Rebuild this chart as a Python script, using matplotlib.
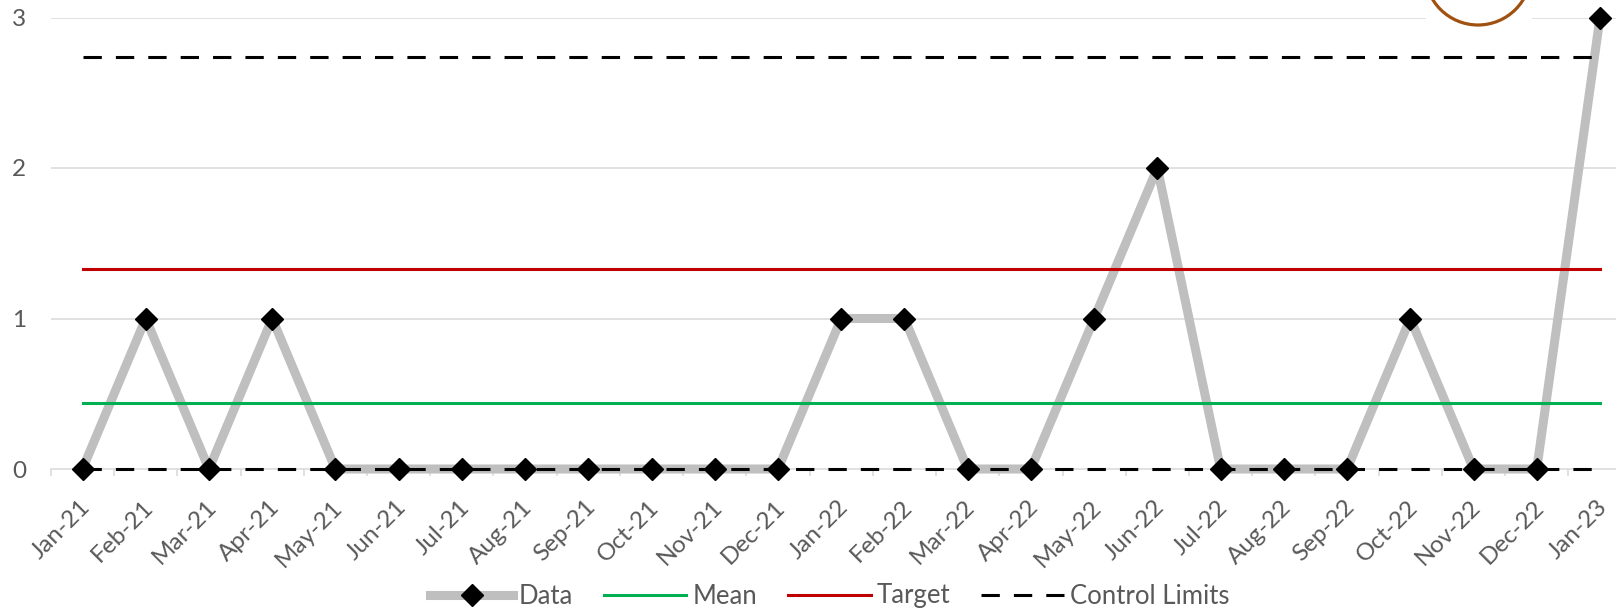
import numpy as np
import matplotlib
matplotlib.use("Agg")
import matplotlib.pyplot as plt
from matplotlib.patches import Ellipse, Rectangle
from matplotlib.transforms import ScaledTranslation

# monthly counts, Jan-21 .. Jan-23
months = ["Jan-21", "Feb-21", "Mar-21", "Apr-21", "May-21", "Jun-21", "Jul-21",
          "Aug-21", "Sep-21", "Oct-21", "Nov-21", "Dec-21", "Jan-22", "Feb-22",
          "Mar-22", "Apr-22", "May-22", "Jun-22", "Jul-22", "Aug-22", "Sep-22",
          "Oct-22", "Nov-22", "Dec-22", "Jan-23"]
counts = [0, 1, 0, 1, 0, 0, 0, 0, 0, 0, 0, 0, 1, 1, 0, 0, 1, 2, 0, 0, 0, 1, 0, 0, 3]
mean_val = 0.44
target_val = 1.33
ucl_val = 2.74
lcl_val = 0.0
yticks = [0, 1, 2, 3]

plt.rcParams['font.family'] = ['Lato', 'DejaVu Sans']
txt_col = '#595959'
fsize = 17.5

W, H = 1616, 612
fig = plt.figure(figsize=(W / 100, H / 100), dpi=100)
# plot area runs off the right edge of the image
ax = fig.add_axes([50.9 / W, 1 - 469 / H, (1631.6 - 50.9) / W, (469 - 17.5) / H])

x = np.arange(len(months))
n = len(months)

ax.set_xlim(-0.5, n - 0.5)
ax.set_ylim(0, 3)

for v in yticks[1:]:
    ax.axhline(v, color='#d9d9d9', lw=1.1, zorder=0)

# data line underneath, reference lines over it, markers on top
ax.plot(x, counts, color='#bfbfbf', lw=6.5, zorder=2, clip_on=False,
        solid_capstyle='round')
dash = (0, (6, 4.6))
ax.plot(x, [lcl_val] * n, color='black', lw=2.2, linestyle=dash, zorder=3,
        clip_on=False)
ax.plot(x, [ucl_val] * n, color='black', lw=2.2, linestyle=dash, zorder=3)
ax.plot(x, [mean_val] * n, color='#00b050', lw=2.2, zorder=3)
ax.plot(x, [target_val] * n, color='#c00000', lw=2.2, zorder=3)
ax.plot(x, counts, linestyle='none', marker='D', markersize=11,
        markerfacecolor='black', markeredgecolor='black', zorder=4,
        clip_on=False)

for s in ['top', 'right', 'left']:
    ax.spines[s].set_visible(False)
ax.spines['bottom'].set_color('#d9d9d9')
ax.spines['bottom'].set_linewidth(1.1)
ax.spines['bottom'].set_zorder(1)

ax.set_yticks(yticks)
ax.set_yticklabels([str(v) for v in yticks])
ax.tick_params(axis='y', length=0, pad=18, labelsize=fsize, labelcolor=txt_col)

ax.set_xticks(np.arange(n + 1) - 0.5, minor=False)
ax.set_xticklabels([])
ax.set_xticks(x, minor=True)
ax.set_xticklabels(months, minor=True, rotation=45, ha='right', va='center',
                   rotation_mode='anchor')
ax.tick_params(axis='x', which='major', length=5, color='#d9d9d9', width=1.1)
ax.tick_params(axis='x', which='minor', length=0, pad=25, labelsize=fsize,
               labelcolor=txt_col)
shift = ScaledTranslation(4 / 100, 0, fig.dpi_scale_trans)
for lab in ax.get_xticklabels(minor=True):
    lab.set_transform(lab.get_transform() + shift)

# legend built from proxy lines
h_data, = ax.plot([], [], color='#bfbfbf', lw=6.5, marker='D', markersize=11,
                  markerfacecolor='black', markeredgecolor='black')
h_mean, = ax.plot([], [], color='#00b050', lw=2.2)
h_target, = ax.plot([], [], color='#c00000', lw=2.2)
h_cl, = ax.plot([], [], color='black', lw=2.2, linestyle=dash)
leg = fig.legend([h_data, h_mean, h_target, h_cl],
                 ['Data', 'Mean', 'Target', 'Control Limits'],
                 loc='center', bbox_to_anchor=(830 / W, 1 - 596 / H),
                 ncol=4, frameon=False, fontsize=18.5, handlelength=3.2,
                 columnspacing=1.2, handletextpad=0.25)
for t in leg.get_texts():
    t.set_color(txt_col)

# highlight ring around the last point
fig.patches.append(Rectangle((1426 / W, 1 - 24 / H), 106 / W, 24 / H,
                             transform=fig.transFigure, facecolor='white',
                             edgecolor='none', zorder=5))
fig.patches.append(Ellipse((1478 / W, 1 + 28 / H), 106 / W, 106 / H,
                           transform=fig.transFigure, facecolor='none',
                           edgecolor='#a0500f', lw=2.3, zorder=6))

fig.savefig('out.png', dpi=100)
